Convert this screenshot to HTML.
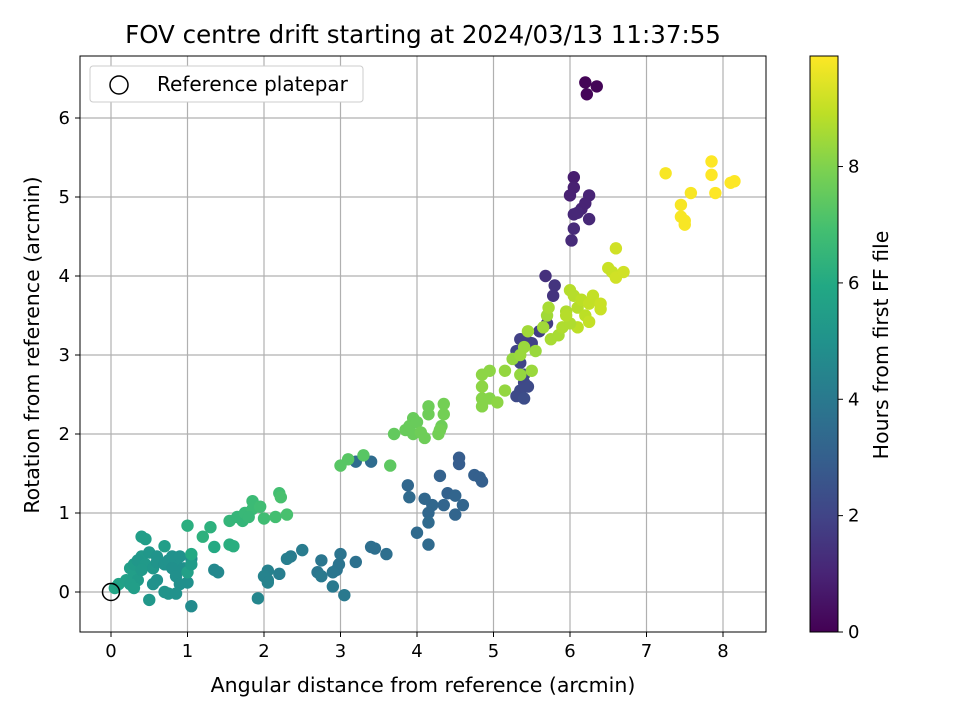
<!DOCTYPE html>
<html><head><meta charset="utf-8"><style>
body{margin:0;background:#fff;font-family:"Liberation Sans","DejaVu Sans",sans-serif}
svg text{font-family:"DejaVu Sans","Liberation Sans",sans-serif;fill:#000}
</style></head><body>
<svg id="chart" width="960" height="720" xmlns="http://www.w3.org/2000/svg">
<defs><linearGradient id="vir" x1="0" y1="1" x2="0" y2="0"></linearGradient></defs>
<g id="grid"></g>
<g id="pts"></g>
<g id="axes"></g>
<text x="423" y="43" font-size="24.5" text-anchor="middle">FOV centre drift starting at 2024/03/13 11:37:55</text>
<text x="423" y="692" font-size="20.5" text-anchor="middle">Angular distance from reference (arcmin)</text>
<text transform="translate(39,345) rotate(-90)" font-size="20.5" text-anchor="middle">Rotation from reference (arcmin)</text>
<g>
<rect x="90" y="66" width="273" height="36" rx="3" fill="#fff" stroke="#ccc"/>
<circle cx="119" cy="85" r="9" fill="none" stroke="#000" stroke-width="1.5"/>
<text x="157" y="91" font-size="20">Reference platepar</text>
</g>
<g id="cbar"></g>
<text transform="translate(888,345) rotate(-90)" font-size="20.5" text-anchor="middle">Hours from first FF file</text>
</svg>
<script>
const xTicks=[0,1,2,3,4,5,6,7,8];
const yTicks=[0,1,2,3,4,5,6];
const cTicks=[0,2,4,6,8];
const hMax=9.9;
const ptX=[6.2,6.35,6.22,6.05,6.05,6.0,6.25,6.2,6.15,6.05,6.1,6.25,6.05,6.02,5.68,5.8,5.78,5.7,5.6,5.42,5.35,5.3,5.35,5.4,5.4,5.35,5.45,5.3,5.4,5.5,
4.55,4.55,4.75,4.82,4.85,4.3,4.4,4.5,4.6,4.5,4.35,4.2,4.1,4.15,4.15,4.0,4.15,3.88,3.9,3.6,3.45,3.4,3.4,3.2,3.2,3.0,2.98,2.95,2.9,2.75,2.7,2.75,2.9,3.05,2.5,2.35,2.3,2.2,2.05,2.05,2.0,2.05,1.92,1.4,1.35,1.05,1.05,
0.05,0.1,0.2,0.3,0.25,0.3,0.4,0.35,0.45,0.5,0.55,0.6,0.4,0.45,0.6,0.7,0.75,0.8,0.85,0.9,0.8,0.85,0.7,0.95,1.0,0.9,0.6,0.55,0.7,0.75,0.85,0.5,0.35,0.25,0.3,0.4,1.0,1.05,1.0,1.05,1.2,1.3,1.35,1.55,1.6,1.55,1.65,1.72,1.75,1.85,1.85,1.95,2.0,2.15,2.2,2.22,2.3,1.8,
3.0,3.1,3.3,3.65,3.7,3.85,3.95,3.9,4.0,3.95,4.1,4.05,4.15,4.15,4.3,4.32,4.35,4.35,4.3,4.28,4.85,4.85,4.95,4.85,4.85,4.95,5.05,5.15,5.15,5.25,5.35,5.35,5.4,5.5,5.55,5.45,5.65,5.7,5.72,5.75,5.85,5.9,5.95,6.0,6.05,6.1,6.15,6.1,6.2,6.25,6.3,6.25,6.4,6.4,6.5,6.55,6.6,6.6,6.7,6.0,5.95,
7.25,7.45,7.45,7.5,7.5,7.58,7.85,7.85,7.9,8.1,8.15];
const ptY=[6.45,6.4,6.3,5.25,5.12,5.02,5.02,4.92,4.85,4.78,4.8,4.72,4.6,4.45,4.0,3.88,3.75,3.4,3.3,3.2,3.2,3.05,2.9,2.75,2.65,2.55,2.6,2.48,2.45,3.15,
1.7,1.62,1.48,1.45,1.4,1.47,1.25,1.22,1.1,0.98,1.1,1.1,1.18,1.0,0.88,0.75,0.6,1.35,1.2,0.48,0.55,0.57,1.65,1.65,0.38,0.48,0.35,0.28,0.25,0.4,0.25,0.2,0.07,-0.04,0.53,0.45,0.42,0.23,0.27,0.15,0.2,0.12,-0.08,0.25,0.28,-0.18,0.42,
0.05,0.1,0.15,0.2,0.3,0.35,0.45,0.4,0.35,0.5,0.3,0.45,0.7,0.67,0.38,0.35,0.4,0.45,0.4,0.45,0.3,0.2,0.58,0.3,0.12,0.1,0.15,0.1,0.0,-0.02,-0.02,-0.1,0.15,0.1,0.05,0.28,0.25,0.35,0.84,0.48,0.7,0.82,0.57,0.6,0.58,0.9,0.95,0.9,1.0,1.05,1.15,1.08,0.93,0.95,1.25,1.2,0.98,0.95,
1.6,1.68,1.73,1.6,2.0,2.05,2.2,2.1,2.15,2.0,1.95,2.02,2.35,2.25,2.05,2.1,2.25,2.38,2.05,2.0,2.35,2.45,2.45,2.6,2.75,2.8,2.4,2.55,2.8,2.95,2.75,3.0,3.1,2.8,3.05,3.3,3.35,3.5,3.6,3.2,3.25,3.35,3.55,3.82,3.75,3.6,3.7,3.35,3.5,3.42,3.75,3.65,3.65,3.58,4.1,4.05,4.35,3.98,4.05,3.4,3.5,
5.3,4.9,4.75,4.65,4.7,5.05,5.45,5.28,5.05,5.18,5.2];
const ptH=[0.1,0.1,0.15,0.8,0.9,0.9,1.0,1.0,1.0,1.1,1.1,1.1,1.2,1.2,1.4,1.5,1.5,1.7,1.8,1.9,1.9,2.0,2.0,2.1,2.1,2.2,2.2,2.2,2.3,1.9,
2.9,2.9,3.0,3.0,3.0,3.1,3.1,3.2,3.2,3.2,3.2,3.3,3.3,3.3,3.4,3.4,3.4,3.3,3.4,3.6,3.6,3.6,3.5,3.5,3.7,3.8,3.8,3.8,3.9,3.9,3.9,4.0,4.0,4.0,4.1,4.1,4.2,4.2,4.3,4.3,4.4,4.4,4.5,4.6,4.6,4.7,4.8,
5.8,5.7,5.6,5.5,5.5,5.4,5.3,5.2,5.3,5.2,5.2,5.1,5.5,5.5,5.1,5.0,5.0,5.0,5.0,5.0,4.9,4.9,5.5,4.9,4.9,4.9,5.0,5.0,5.1,5.1,5.0,5.2,5.4,5.5,5.5,5.3,5.6,5.4,6.2,6.0,6.3,6.3,6.0,6.2,6.2,6.5,6.5,6.5,6.6,6.7,6.7,6.8,6.8,6.9,6.9,7.0,7.0,6.6,
7.3,7.3,7.3,7.4,7.5,7.6,7.6,7.6,7.6,7.6,7.7,7.7,7.7,7.7,7.7,7.7,7.8,7.8,7.8,7.8,8.1,8.1,8.1,8.2,8.2,8.2,8.2,8.3,8.3,8.3,8.3,8.4,8.4,8.4,8.4,8.5,8.5,8.5,8.6,8.6,8.6,8.7,8.7,8.8,8.8,8.8,8.9,8.9,8.9,9.0,9.0,9.0,9.1,9.1,9.1,9.1,9.2,9.2,9.2,8.7,8.8,
9.8,9.8,9.8,9.8,9.8,9.8,9.9,9.9,9.9,9.9,9.9];
const NS="http://www.w3.org/2000/svg";
const L=80,R=766,T=56,B=632;
const sx=v=>111+v*76.5, sy=v=>592-v*79;
const vstops=[[68,1,84],[72,36,117],[65,68,135],[53,95,141],[42,120,142],[33,145,140],[34,168,132],[68,191,112],[122,209,81],[189,223,38],[253,231,37]];
function vir(t){t=Math.max(0,Math.min(1,t))*10;const i=Math.min(9,Math.floor(t)),f=t-i,a=vstops[i],b=vstops[i+1];
return `rgb(${a.map((c,k)=>Math.round(c+(b[k]-c)*f)).join(',')})`;}
function el(tag,attrs,parent){const e=document.createElementNS(NS,tag);for(const k in attrs)e.setAttribute(k,attrs[k]);parent.appendChild(e);return e;}
const grid=document.getElementById('grid'),axes=document.getElementById('axes'),pts=document.getElementById('pts'),cb=document.getElementById('cbar');
xTicks.forEach(v=>{const x=sx(v);
const g=el('line',{x1:x,x2:x,y1:T,y2:B,stroke:'#b0b0b0','stroke-width':1.2},grid);

el('line',{x1:x,x2:x,y1:B,y2:B+5,stroke:'#000'},axes);
const t=el('text',{x:x,y:B+25,'font-size':18,'text-anchor':'middle'},axes);t.textContent=v;
});
yTicks.forEach(v=>{const y=sy(v);
const g=el('line',{x1:L,x2:R,y1:y,y2:y,stroke:'#b0b0b0','stroke-width':1.2},grid);

el('line',{x1:L-5,x2:L,y1:y,y2:y,stroke:'#000'},axes);
const t=el('text',{x:L-10,y:y+6,'font-size':18,'text-anchor':'end'},axes);t.textContent=v;
});
el('rect',{x:L,y:T,width:R-L,height:B-T,fill:'none',stroke:'#000','stroke-width':1},axes);
ptX.forEach((v,i)=>{const c=el('circle',{cx:sx(v),cy:sy(ptY[i]),r:6.2,fill:vir(ptH[i]/hMax)},pts);
});
const ref=el('circle',{cx:sx(0),cy:sy(0),r:8.5,fill:'none',stroke:'#000','stroke-width':1.5},pts);

const grad=document.getElementById('vir');
vstops.forEach((s,i)=>el('stop',{offset:i/10,'stop-color':`rgb(${s.join(',')})`},grad));
const CX=810,CW=28,cy=h=>632-h*(576/hMax);
el('rect',{x:CX,y:T,width:CW,height:B-T,fill:'url(#vir)',stroke:'#000'},cb);
cTicks.forEach(v=>{const y=cy(v);el('line',{x1:CX+CW,x2:CX+CW+5,y1:y,y2:y,stroke:'#000'},cb);
const t=el('text',{x:CX+CW+10,y:y+6,'font-size':18},cb);t.textContent=v;
});
</script>
</body></html>
